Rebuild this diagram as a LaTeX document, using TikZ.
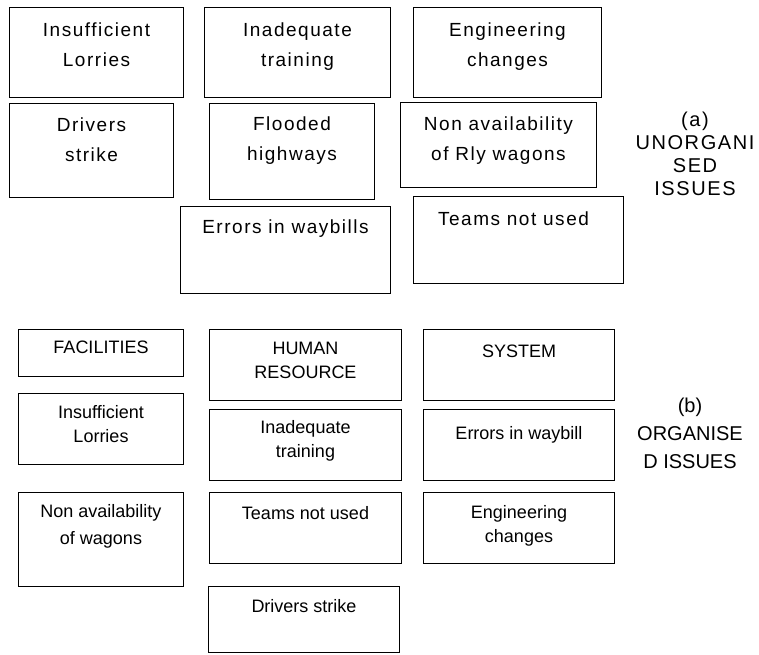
\documentclass[tikz,border=0pt]{standalone}
\usepackage{fontspec}
\setmainfont{Liberation Sans}
\newfontfamily\widefont[LetterSpace=8]{Liberation Sans}
\usetikzlibrary{positioning}
\tikzset{
  box/.style={draw, line width=1pt, anchor=north west, inner sep=0pt},
  bigtxt/.style={align=center, inner sep=0pt, font=\widefont\fontsize{19}{30}\selectfont},
  smalltxt/.style={align=center, inner sep=0pt, font=\fontsize{18}{24}\selectfont},
}
\begin{document}
\begin{tikzpicture}[x=1pt,y=-1pt]
  \useasboundingbox (0,0) rectangle (759,654);
  % (a) unorganised issues
  \node[box, minimum width=174pt, minimum height=90pt] (lorries) at (9,7) {};
  \node[bigtxt, below=16pt of lorries.north] (lorriest) {Insufficient\\Lorries};
  \node[box, minimum width=186pt, minimum height=90pt] (training) at (204,7) {};
  \node[bigtxt, below=16pt of training.north] (trainingt) {Inadequate\\training};
  \node[box, minimum width=188pt, minimum height=90pt] (engg) at (413,7) {};
  \node[bigtxt, below=16pt of engg.north] (enggt) {Engineering\\changes};
  \node[box, minimum width=164pt, minimum height=94pt] (strike) at (9,103) {};
  \node[bigtxt, below=15pt of strike.north] (striket) {Drivers\\strike};
  \node[box, minimum width=165pt, minimum height=96pt] (flood) at (209,103) {};
  \node[bigtxt, below=14pt of flood.north] (floodt) {Flooded\\highways};
  \node[box, minimum width=196pt, minimum height=85pt] (wagons) at (400,102) {};
  \node[bigtxt, below=15pt of wagons.north] (wagonst) {Non availability\\of Rly wagons};
  \node[box, minimum width=210pt, minimum height=87pt] (waybills) at (180,206) {};
  \node[bigtxt, below=14pt of waybills.north] (waybillst) {Errors in waybills};
  \node[box, minimum width=210pt, minimum height=87pt] (teams) at (413,196) {};
  \node[bigtxt, below=16pt of teams.north, xshift=-5pt] (teamst) {Teams not used};
  \node[bigtxt, anchor=north, font=\widefont\fontsize{20}{23}\selectfont] (capa) at (695,112) {(a)\\UNORGANI\\SED\\ISSUES};
  % (b) organised issues
  \node[box, minimum width=165pt, minimum height=47pt] (fac) at (18,329) {};
  \node[smalltxt, below=12pt of fac.north] (fact) {FACILITIES};
  \node[box, minimum width=192pt, minimum height=71pt] (hr) at (209,329) {};
  \node[smalltxt, below=13pt of hr.north] (hrt) {HUMAN\\RESOURCE};
  \node[box, minimum width=191pt, minimum height=71pt] (sys) at (423,329) {};
  \node[smalltxt, below=16pt of sys.north] (syst) {SYSTEM};
  \node[box, minimum width=165pt, minimum height=71pt] (lorries2) at (18,393) {};
  \node[smalltxt, below=12pt of lorries2.north] (lorries2t) {Insufficient\\Lorries};
  \node[box, minimum width=192pt, minimum height=71pt] (training2) at (209,409) {};
  \node[smalltxt, below=11pt of training2.north] (training2t) {Inadequate\\training};
  \node[box, minimum width=191pt, minimum height=71pt] (waybill2) at (423,409) {};
  \node[smalltxt, below=17pt of waybill2.north] (waybill2t) {Errors in waybill};
  \node[box, minimum width=165pt, minimum height=94pt] (wagons2) at (18,492) {};
  \node[smalltxt, below=12pt of wagons2.north] (wagons2t) {Non availability\\[3pt]of wagons};
  \node[box, minimum width=192pt, minimum height=71pt] (teams2) at (209,492) {};
  \node[smalltxt, below=14pt of teams2.north] (teams2t) {Teams not used};
  \node[box, minimum width=191pt, minimum height=71pt] (engg2) at (423,492) {};
  \node[smalltxt, below=13pt of engg2.north] (engg2t) {Engineering\\changes};
  \node[box, minimum width=191pt, minimum height=66pt] (strike2) at (208,586) {};
  \node[smalltxt, below=13pt of strike2.north] (strike2t) {Drivers strike};
  \node[anchor=north, align=center, inner sep=0pt, font=\fontsize{20}{28}\selectfont] (capb) at (690,398) {(b)\\ORGANISE\\D ISSUES};
\end{tikzpicture}
\end{document}
